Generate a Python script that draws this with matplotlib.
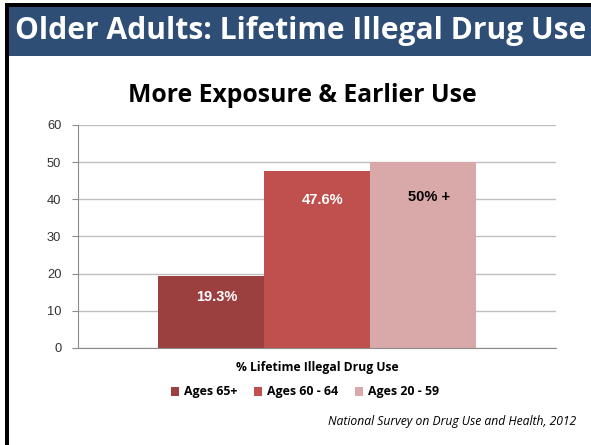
import matplotlib
matplotlib.use("Agg")
import matplotlib.pyplot as plt
from matplotlib.patches import Rectangle

# data
groups = ["Ages 65+", "Ages 60 - 64", "Ages 20 - 59"]
values = [19.3, 47.6, 50.0]
labels = ["19.3%", "47.6%", "50% +"]
category = "% Lifetime Illegal Drug Use"
colors = ["#9B403E", "#C0504D", "#D9A8A8"]
label_colors = ["white", "white", "black"]
label_drop = [21, 29, 35]  # pixels below bar top
yticks = [0, 10, 20, 30, 40, 50, 60]

W, H = 591, 445
fig = plt.figure(figsize=(W / 100, H / 100), dpi=100)
fig.patch.set_facecolor("white")

# slide frame and header band
fig.add_artist(Rectangle((9 / W, 1 - 56 / H), 1 - 9 / W, 49 / H,
                         transform=fig.transFigure, facecolor="#2F4E76", edgecolor="none"))
fig.add_artist(Rectangle((5 / W, 1 - 7 / H), 1 - 5 / W, 4 / H,
                         transform=fig.transFigure, facecolor="black", edgecolor="none"))
fig.add_artist(Rectangle((5 / W, 0), 4 / W, 1 - 3 / H,
                         transform=fig.transFigure, facecolor="black", edgecolor="none"))
fig.text(301 / W, 1 - 31 / H, "Older Adults: Lifetime Illegal Drug Use",
         color="white", fontsize=21.6, fontweight="bold", family="Open Sans",
         ha="center", va="center")

fig.text(302 / W, 1 - 95 / H, "More Exposure & Earlier Use",
         color="black", fontsize=17.8, fontweight="bold", family="Open Sans",
         ha="center", va="center")

ax = fig.add_axes([78 / W, 1 - 348 / H, (556 - 78) / W, (348 - 125) / H])
width = 1 / 1.5 / len(values)
xs = [-1 / 3 + width / 2 + i * width for i in range(len(values))]
bars = ax.bar(xs, values, width=width, color=colors, label=groups)
ax.set_xlim(-0.5, 0.5)
ax.set_ylim(0, 60)
ax.set_yticks(yticks)
ax.set_xticks([])
ax.grid(axis="y", color="#BFBFBF", linewidth=1)
ax.set_axisbelow(True)
for s in ["top", "right"]:
    ax.spines[s].set_visible(False)
for s in ["left", "bottom"]:
    ax.spines[s].set_color("#8C8C8C")
ax.tick_params(axis="y", length=4, color="#8C8C8C", labelsize=9.3,
               labelcolor="#333333", pad=8)
for lab in ax.get_yticklabels():
    lab.set_family("Liberation Sans")

for x, v, t, c, d in zip(xs, values, labels, label_colors, label_drop):
    ax.annotate(t, (x, v), xytext=(4, -d * 0.72), textcoords="offset points",
                ha="center", va="center", color=c, fontsize=10.5,
                fontweight="bold", family="Liberation Sans")

fig.text(317 / W, 1 - 367 / H, category, fontsize=8.7, fontweight="bold",
         family="Open Sans", ha="center", va="center")

leg = fig.legend(handles=bars, labels=groups, loc="center",
                 bbox_to_anchor=(305 / W, 1 - 392 / H), ncol=3, frameon=False,
                 handlelength=0.7, handleheight=0.7, handletextpad=0.4,
                 columnspacing=1.3, prop={"family": "Open Sans", "weight": "bold", "size": 8.9})

fig.text(576 / W, 1 - 421 / H, "National Survey on Drug Use and Health, 2012",
         fontsize=8.7, style="italic", family="Open Sans", ha="right", va="center")

fig.savefig("out.png", dpi=100)
